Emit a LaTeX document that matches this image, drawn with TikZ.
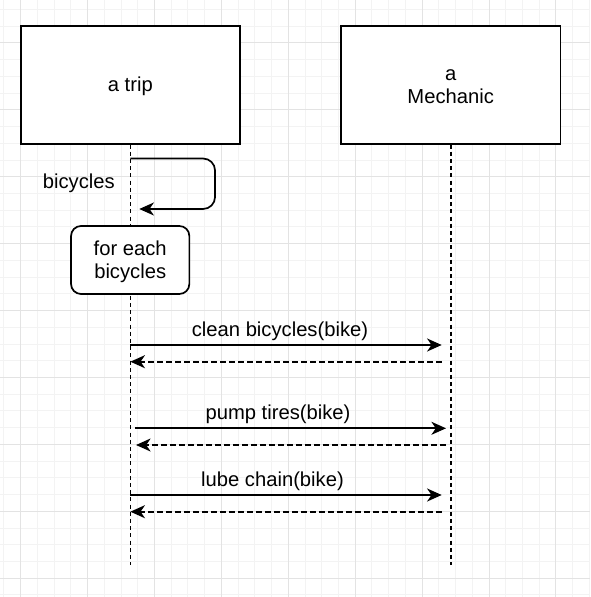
\documentclass[tikz,border=0pt]{standalone}
\usepackage{fontspec}
\setmainfont{Liberation Sans}
\usetikzlibrary{arrows.meta}
\definecolor{gridminor}{HTML}{F3F3F3}
\definecolor{gridmajor}{HTML}{E3E3E3}

\begin{document}
\begin{tikzpicture}[x=0.5pt,y=-0.5pt,
 font=\fontsize{10.1}{11.65}\selectfont,
 actor/.style={draw,line width=0.85pt,fill=white,minimum width=109.65pt,minimum height=59pt,align=center,text height=7.3pt,text depth=0pt},
 loopbox/.style={draw,line width=0.85pt,fill=white,rounded corners=5pt,minimum width=59.15pt,minimum height=34pt,align=center,text height=18.95pt,text depth=0pt},
 life/.style={line width=0.85pt,dash pattern=on 2pt off 1.6pt},
 call/.style={line width=0.85pt,-{Stealth[length=7.3pt,width=6.5pt,inset=2.2pt]}},
 reply/.style={call,dash pattern=on 2.8pt off 1.7pt},
 lbl/.style={inner sep=0pt,anchor=base}]
 \useasboundingbox (0,0) rectangle (590,597);
 \fill[white] (0,0) rectangle (590,597);
 \foreach \k in {0,...,35} {
  \draw[color=gridminor,line width=0.5pt] (3.975+16.725*\k,0) -- (3.975+16.725*\k,597);
  \draw[color=gridminor,line width=0.5pt] (0,9.55+16.725*\k) -- (590,9.55+16.725*\k);
  }
 \foreach \k in {0,...,8} {
  \draw[color=gridmajor,line width=0.5pt] (20.7+66.9*\k,0) -- (20.7+66.9*\k,597);
  \draw[color=gridmajor,line width=0.5pt] (0,43+66.9*\k) -- (590,43+66.9*\k);
  }
 \node[actor] (trip) at (130.35,84.7) {a trip};
 \node[actor,text height=18.95pt] (mech) at (450.7,84.7) {a\\Mechanic};
 \coordinate (tripend) at (trip.south |- 0,565);
 \coordinate (mechend) at (mech.south |- 0,565);
 \draw[life] (trip.south) -- (tripend);
 \draw[life] (mech.south) -- (mechend);
 \coordinate (s1) at (130.35,158.5);
 \coordinate (s2) at (139.3,209);
 \draw[call,rounded corners=6pt] (s1) -- ++(84.7,0) |- (s2);
 \node[lbl] (selflbl) at (78.8,188.3) {bicycles};
 \node[loopbox] (each) at (130.2,260) {for each\\bicycles};
 \coordinate (c1) at (130.35,345);
 \coordinate (c2) at (441.7,345);
 \coordinate (r1) at (441.7,361.7);
 \coordinate (r2) at (130.35,361.7);
 \draw[call] (c1) -- (c2);
 \draw[reply] (r1) -- (r2);
 \node[lbl] (cleanlbl) at (280,336.7) {clean bicycles(bike)};
 \coordinate (p1) at (135,428.3);
 \coordinate (p2) at (446,428.3);
 \coordinate (q1) at (446,445);
 \coordinate (q2) at (136,445);
 \draw[call] (p1) -- (p2);
 \draw[reply] (q1) -- (q2);
 \node[lbl] (pumplbl) at (278,419.5) {pump tires(bike)};
 \coordinate (l1) at (130.35,495);
 \coordinate (l2) at (441.7,495);
 \coordinate (m1) at (441.7,511.7);
 \coordinate (m2) at (130.35,511.7);
 \draw[call] (l1) -- (l2);
 \draw[reply] (m1) -- (m2);
 \node[lbl] (lubelbl) at (272.5,486.7) {lube chain(bike)};
\end{tikzpicture}
\end{document}
